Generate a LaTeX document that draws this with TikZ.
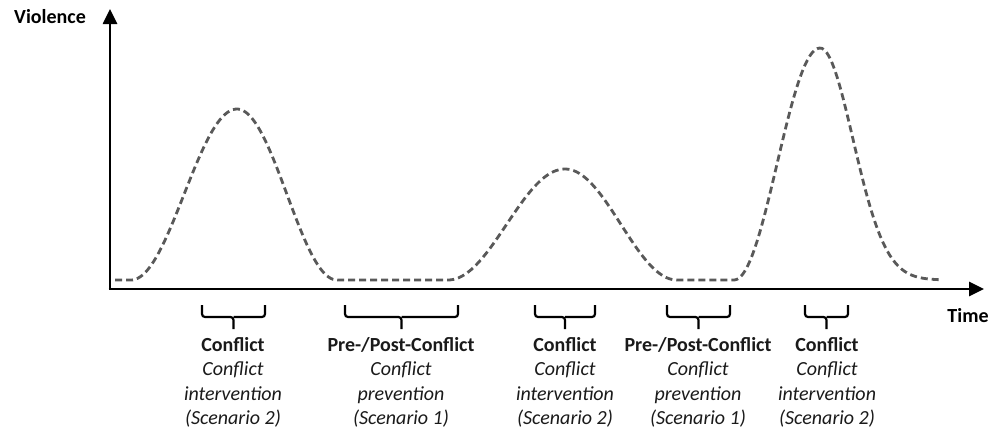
\documentclass[tikz,border=0pt]{standalone}
\usepackage{fontspec}
\setmainfont{Carlito}
\usetikzlibrary{arrows.meta}
\begin{document}
\begin{tikzpicture}[x=1pt,y=-1pt,
  % raised-cosine bump of height \h and half-width \w around \c
  declare function={
    cb(\t,\c,\w)=cos(90*min(abs(\t-\c)/\w,1))^2;
    gb(\t,\c,\s)=exp(-min(((\t-\c)/\s)^2/2,20));
    bump(\t,\c,\h,\l,\r)=\h*((\t<\c)*cb(\t,\c,\l)+(\t>=\c)*cb(\t,\c,\r));
    tailbump(\t,\c,\h,\l,\s)=\h*((\t<\c)*cb(\t,\c,\l)+(\t>=\c)*gb(\t,\c,\s));},
  axis/.style={line width=2.6pt,-{Triangle[length=15pt,width=14pt]}},
  curve/.style={line width=2.8pt,color=curvegray,dash pattern=on 7pt off 4pt},
  bracket/.style={line width=2.2pt,rounded corners=3pt},
  axislabel/.style={font=\fontsize{20}{24}\selectfont\bfseries,inner sep=0pt},
  phase/.style={align=center,inner sep=0pt,anchor=north,
    font=\fontsize{20}{24.5}\selectfont,text=textgray}]
\definecolor{curvegray}{HTML}{595959}
\definecolor{textgray}{HTML}{1A1A1A}
\useasboundingbox (0,0) rectangle (995,429);

% axes
\coordinate (O) at (110,289);
\coordinate (ytop) at (110,9);
\coordinate (xend) at (984,289);
\draw[axis] (O) -- (ytop);
\draw[axis] ([xshift=-1.3pt]O) -- (xend);
\node[axislabel,anchor=base] (vlab) at (50,23) {Violence};
\node[axislabel,anchor=base] (tlab) at (968,322) {Time};

% violence over time: three peaks on a flat baseline,
% the last one with a longer tail on its right
\draw[curve] plot[domain=115:940,samples=330,smooth]
  (\x,{280-bump(\x,237,171,106,100)-bump(\x,565,111,117,112)
          -tailbump(\x,820,232,86,33)});

% phase brackets
\foreach \n/\a/\b in {1/202/265, 2/345/458, 3/535/595, 4/667/730, 5/805/848}{
  \coordinate (l\n) at (\a,305);
  \coordinate (r\n) at (\b,305);
  \coordinate (m\n) at ({(\a+\b)/2},317);
  \coordinate (t\n) at ({(\a+\b)/2},329);
  \draw[bracket] (l\n) |- (m\n) -- (t\n);
  \draw[bracket] (r\n) |- (m\n);
}

% phase labels
\node[phase] (p1) at (233,337) {\textbf{Conflict}\\\itshape Conflict\\\itshape intervention\\\itshape (Scenario 2)};
\node[phase] (p2) at (401,337) {\textbf{Pre-/Post-Conflict}\\\itshape Conflict\\\itshape prevention\\\itshape (Scenario 1)};
\node[phase] (p3) at (565,337) {\textbf{Conflict}\\\itshape Conflict\\\itshape intervention\\\itshape (Scenario 2)};
\node[phase] (p4) at (698,337) {\textbf{Pre-/Post-Conflict}\\\itshape Conflict\\\itshape prevention\\\itshape (Scenario 1)};
\node[phase] (p5) at (827,337) {\textbf{Conflict}\\\itshape Conflict\\\itshape intervention\\\itshape (Scenario 2)};
\end{tikzpicture}
\end{document}
